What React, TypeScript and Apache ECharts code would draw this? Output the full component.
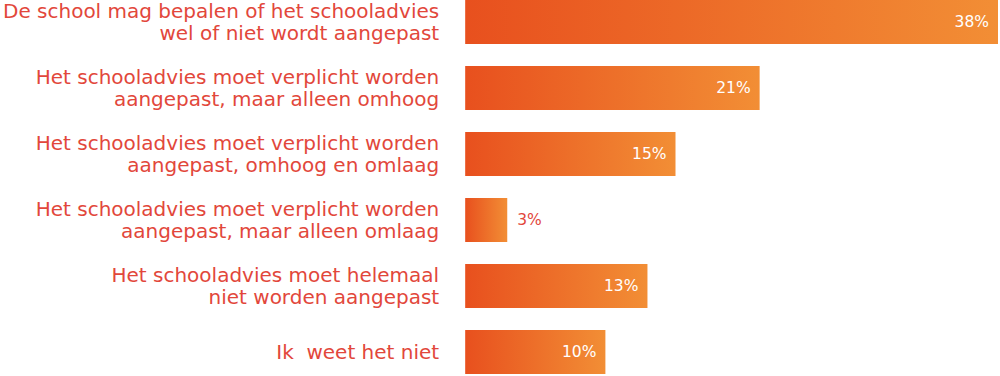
import React, { useEffect, useRef } from "react";
import * as echarts from "echarts";

const categories = [
  "De school mag bepalen of het schooladvies\nwel of niet wordt aangepast",
  "Het schooladvies moet verplicht worden\naangepast, maar alleen omhoog",
  "Het schooladvies moet verplicht worden\naangepast, omhoog en omlaag",
  "Het schooladvies moet verplicht worden\naangepast, maar alleen omlaag",
  "Het schooladvies moet helemaal\nniet worden aangepast",
  "Ik  weet het niet",
];
const values = [38, 21, 15, 3, 13, 10];

const RED = "#e2473b";
const FONT = "DejaVu Sans";

export default function App() {
  const ref = useRef<HTMLDivElement>(null);
  useEffect(() => {
    document.body.style.margin = "0";
    const chart = echarts.init(ref.current!, null, { renderer: "svg" });
    const gradient = new echarts.graphic.LinearGradient(0, 0, 1, 0, [
      { offset: 0, color: "#e8501e" },
      { offset: 1, color: "#f28e35" },
    ]);
    chart.setOption({
      animation: false,
      grid: { left: 464, right: 2, top: 0, bottom: 0, containLabel: false },
      xAxis: {
        type: "value",
        min: 0,
        max: 38,
        show: false,
      },
      yAxis: {
        type: "category",
        inverse: true,
        data: categories,
        axisLine: { show: false },
        axisTick: { show: false },
        splitLine: { show: false },
        axisLabel: {
          color: RED,
          fontFamily: FONT,
          fontSize: 20,
          lineHeight: 22,
          align: "right",
          margin: 26,
        },
      },
      series: [
        {
          type: "bar",
          barWidth: 44,
          data: values.map((v) => ({
            value: v,
            itemStyle: { color: gradient },
            label:
              v < 5
                ? { show: true, position: "right", distance: 10, color: RED }
                : { show: true, position: "insideRight", distance: 9, color: "#ffffff" },
          })),
          label: {
            formatter: "{c}%",
            fontFamily: FONT,
            fontSize: 15.5,
          },
        },
      ],
    });
    return () => chart.dispose();
  }, []);
  return (
    <div style={{ width: 1000, height: 376, overflow: "hidden", position: "relative" }}>
      <div ref={ref} style={{ width: 1000, height: 396, position: "absolute", top: -11, left: 0 }} />
    </div>
  );
}
